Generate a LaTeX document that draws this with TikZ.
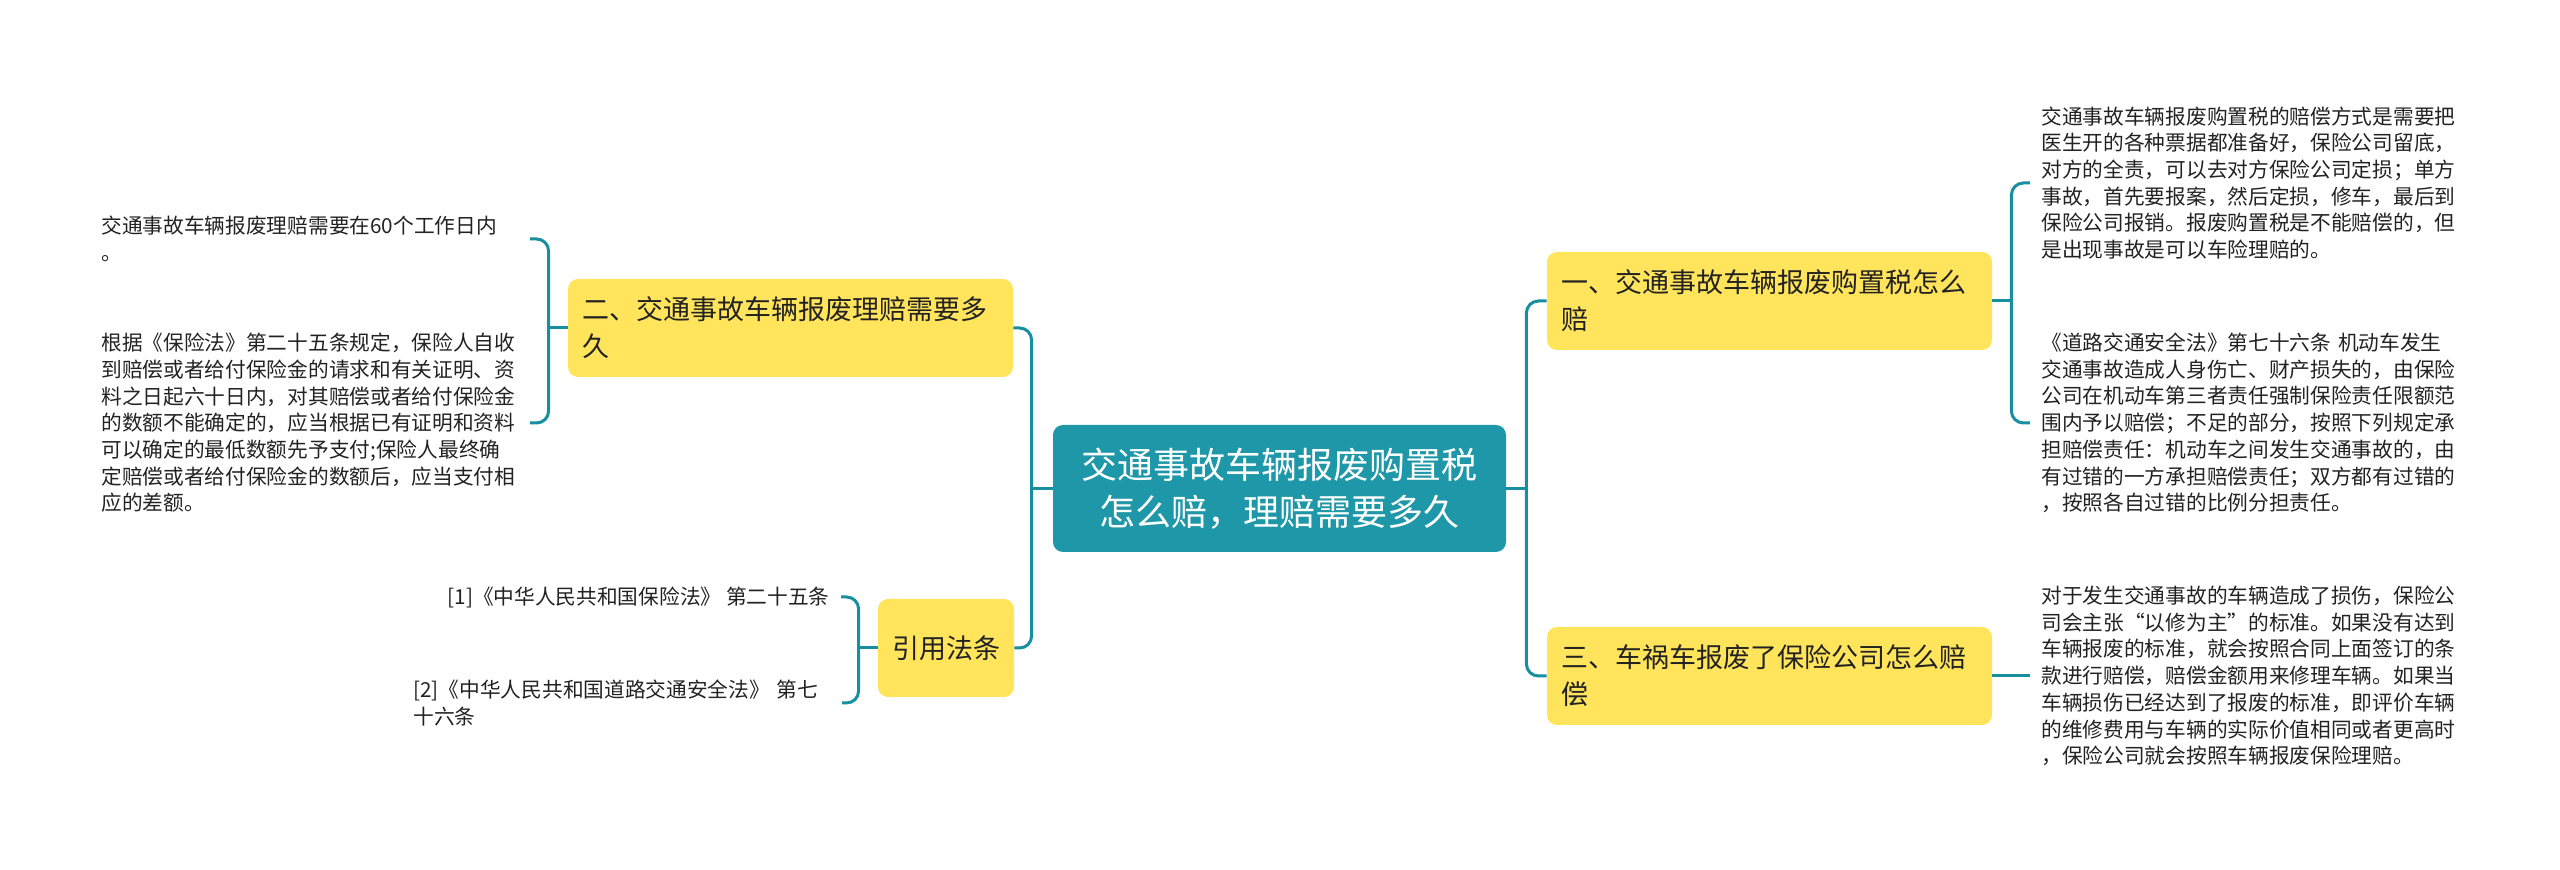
\documentclass[tikz,border=0pt]{standalone}
\usepackage{fontspec}
\setmainfont{Noto Sans CJK SC}
\usepackage{xcolor}
\usetikzlibrary{positioning, calc}
\definecolor{zhuse}{RGB}{30,152,168}
\definecolor{lianxian}{RGB}{24,143,160}
\definecolor{huangse}{RGB}{255,228,92}
\definecolor{wenzi}{RGB}{34,34,34}

\begin{document}
\begin{tikzpicture}[x=0.5pt, y=-0.5pt,
    zhuti/.style={fill=zhuse, rounded corners=5pt, text=white, align=center,
        minimum width=226.5pt, minimum height=63.5pt, inner sep=0pt,
        font=\fontsize{18pt}{23.5pt}\selectfont},
    fenzhi/.style={fill=huangse, rounded corners=5pt, text=wenzi, align=left,
        inner xsep=7pt, inner ysep=0pt, minimum height=49pt,
        font=\fontsize{13.5pt}{18.5pt}\selectfont},
    yezi/.style={text=wenzi, align=left, inner xsep=5.5pt, inner ysep=2pt,
        font=\fontsize{10.35pt}{13.35pt}\selectfont},
    link/.style={draw=lianxian, line width=1.5pt, rounded corners=6pt}]
    \useasboundingbox (0,0) rectangle (2560,870);

    % 中心主题
    \node[zhuti] (zhu) at (1279.5,488.5) {交通事故车辆报废购置税\\怎么赔，理赔需要多久};

    % 左侧分支
    \node[fenzhi, text width=208.5pt] (er) at (790.5,328) {二、交通事故车辆报废理赔需要多\\久};
    \node[fenzhi] (yy) at (946,648) {引用法条};

    % 右侧分支
    \node[fenzhi, text width=208.5pt] (yi) at (1769.5,301) {一、交通事故车辆报废购置税怎么\\赔};
    \node[fenzhi, text width=208.5pt] (san) at (1769.5,676) {三、车祸车报废了保险公司怎么赔\\偿};

    % 二的内容
    \node[yezi, text width=208.5pt, anchor=west] (erA) at (90,239) {交通事故车辆报废理赔需要在60个工作日内\\。};
    \node[yezi, text width=208.5pt, anchor=west] (erB) at (90,423) {根据《保险法》第二十五条规定，保险人自收\\到赔偿或者给付保险金的请求和有关证明、资\\料之日起六十日内，对其赔偿或者给付保险金\\的数额不能确定的，应当根据已有证明和资料\\可以确定的最低数额先予支付;保险人最终确\\定赔偿或者给付保险金的数额后，应当支付相\\应的差额。};

    % 引用法条的内容
    \node[yezi, anchor=east] (yin1) at (841,597) {[1]《中华人民共和国保险法》 第二十五条};
    \node[yezi, text width=208.5pt, anchor=west] (yin2) at (402,703) {[2]《中华人民共和国道路交通安全法》 第七\\十六条};

    % 一的内容
    \node[yezi, text width=208.5pt, anchor=west] (yiA) at (2030,183) {交通事故车辆报废购置税的赔偿方式是需要把\\医生开的各种票据都准备好，保险公司留底，\\对方的全责，可以去对方保险公司定损；单方\\事故，首先要报案，然后定损，修车，最后到\\保险公司报销。报废购置税是不能赔偿的，但\\是出现事故是可以车险理赔的。};
    \node[yezi, text width=208.5pt, anchor=west] (yiB) at (2030,423) {《道路交通安全法》第七十六条 机动车发生\\交通事故造成人身伤亡、财产损失的，由保险\\公司在机动车第三者责任强制保险责任限额范\\围内予以赔偿；不足的部分，按照下列规定承\\担赔偿责任：机动车之间发生交通事故的，由\\有过错的一方承担赔偿责任；双方都有过错的\\，按照各自过错的比例分担责任。};

    % 三的内容
    \node[yezi, text width=208.5pt, anchor=west] (sanA) at (2030,676) {对于发生交通事故的车辆造成了损伤，保险公\\司会主张“以修为主”的标准。如果没有达到\\车辆报废的标准，就会按照合同上面签订的条\\款进行赔偿，赔偿金额用来修理车辆。如果当\\车辆损伤已经达到了报废的标准，即评价车辆\\的维修费用与车辆的实际价值相同或者更高时\\，保险公司就会按照车辆报废保险理赔。};

    % 连线
    \coordinate (zuo) at ($(zhu.west)+(-21,0)$);
    \coordinate (you) at ($(zhu.east)+(20,0)$);
    \draw[link] (zhu.west) -- (zuo);
    \draw[link] (er.east) -| (zuo) |- (yy.east);
    \draw[link] (zhu.east) -- (you);
    \draw[link] (yi.west) -| (you) |- (san.west);

    \coordinate (erzhi) at ($(er.west)+(-19,0)$);
    \draw[link] (er.west) -- (erzhi);
    \draw[link] (erA.east) -| (erzhi) |- (erB.east);

    \coordinate (yyzhi) at ($(yy.west)+(-19,0)$);
    \draw[link] (yy.west) -- (yyzhi);
    \draw[link] (yin1.east) -| (yyzhi) |- (yin2.east);

    \coordinate (yizhi) at ($(yi.east)+(19,0)$);
    \draw[link] (yi.east) -- (yizhi);
    \draw[link] (yiA.west) -| (yizhi) |- (yiB.west);

    \draw[link] (san.east) -- (sanA.west);
\end{tikzpicture}
\end{document}
